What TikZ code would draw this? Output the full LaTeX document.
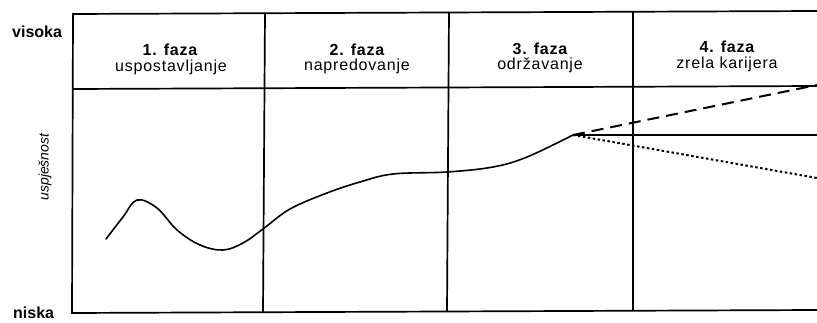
\documentclass[tikz,border=0pt]{standalone}
\usepackage{fontspec}
\setmainfont{Liberation Sans}
\newfontfamily\hdfont[LetterSpace=5]{Liberation Sans}
\begin{document}
\begin{tikzpicture}[x=1pt,y=-1pt,
  frame/.style={line width=1.7pt, black},
  curveline/.style={line width=1.6pt, black, line cap=round, line join=round},
  hdbold/.style={font=\fontsize{16}{18}\selectfont\hdfont\bfseries, anchor=base, inner sep=0pt},
  hdreg/.style={font=\fontsize{16}{18}\selectfont\hdfont, anchor=base, inner sep=0pt},
  axislbl/.style={font=\fontsize{16}{18}\selectfont\bfseries, inner sep=0pt}]
\useasboundingbox (0,0) rectangle (817,323);
\fill[white] (0,0) rectangle (817,323);
% frame corners
\coordinate (tl) at (73,14);
\coordinate (tr) at (817,11);
\coordinate (hl) at (73,89);
\coordinate (hr) at (817,86);
\coordinate (bl) at (72,313);
\coordinate (br) at (817,310);
\draw[frame] (tr) -- (tl) -- (bl) -- (br);
\draw[frame] (hl) -- (hr);
\draw[frame] (265,13) -- (263,312);
\draw[frame] (449,12) -- (447,311);
\draw[frame] (633,12) -- (633,310);
% labels
\node[axislbl, anchor=base west] (vis) at (12,37.5) {visoka};
\node[axislbl, anchor=base west] (nis) at (13,319) {niska};
\node[font=\fontsize{14}{16}\selectfont\itshape, rotate=90, inner sep=0pt] (usp) at (45,167) {uspješnost};
% headers
\node[hdbold] (p1t) at (170,56) {1. faza};
\node[hdreg]  (p1s) at (171,71.5) {uspostavljanje};
\node[hdbold] (p2t) at (357,56) {2. faza};
\node[hdreg]  (p2s) at (357,71) {napredovanje};
\node[hdbold] (p3t) at (540,54.5) {3. faza};
\node[hdreg]  (p3s) at (540,70) {održavanje};
\node[hdbold] (p4t) at (727,52.5) {4. faza};
\node[hdreg]  (p4s) at (727,68.5) {zrela karijera};
% curve
\coordinate (e) at (573,135);
\draw[curveline] plot[smooth, tension=0.6] coordinates {
 (106,239) (123,217) (137,200) (157,208) (177,230) (200,245) (223,250)
 (243,243) (263,229) (290,209) (327,193) (360,182) (393,174) (447,172)
 (493,167) (527,157) (573,135)};
\coordinate (dE) at (817,85);
\coordinate (sE) at (817,135);
\coordinate (tE) at (817,178);
\draw[line width=1.5pt] (e) -- (sE);
\draw[line width=2pt, dash pattern=on 12pt off 7pt] (e) -- (dE);
\draw[line width=2pt, dash pattern=on 2.5pt off 2.5pt] (e) -- (tE);
\end{tikzpicture}
\end{document}
